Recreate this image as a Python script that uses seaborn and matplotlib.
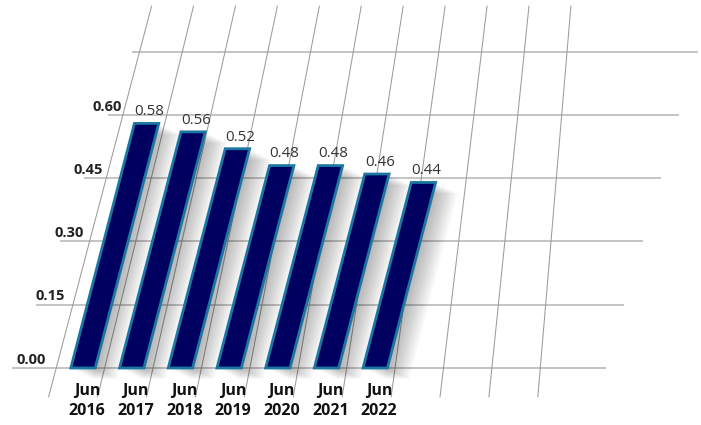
import numpy as np
import pandas as pd
import matplotlib
matplotlib.use("Agg")
import matplotlib.pyplot as plt
import seaborn as sns
from matplotlib.transforms import Affine2D
from matplotlib.patches import Rectangle

# ---- data ----
periods = ["Jun\n2016", "Jun\n2017", "Jun\n2018", "Jun\n2019", "Jun\n2020", "Jun\n2021", "Jun\n2022"]
values = [0.58, 0.56, 0.52, 0.48, 0.48, 0.46, 0.44]
ytick_values = [0.00, 0.15, 0.30, 0.45, 0.60]
hgrid_values = [0.00, 0.15, 0.30, 0.45, 0.60, 0.75]
n_vgrid = 11

# ---- style ----
sns.set_theme(style="white")
plt.rcParams["font.family"] = ["Open Sans", "DejaVu Sans"]

BAR_FACE = "#000060"
BAR_EDGE = "#1c76a2"
GRID_H = "#b4b4b4"
GRID_V = "#9c9c9c"

fig = plt.figure(figsize=(7.01, 4.25), dpi=100)
ax = fig.add_axes([0, 0, 1, 1])

df = pd.DataFrame({"period": periods, "value": values})
sns.barplot(data=df, x="period", y="value", color=BAR_FACE, saturation=1,
            width=0.5, edgecolor=BAR_EDGE, linewidth=2.0, ax=ax, zorder=4)

# pixel scales: 48.7 px per category, 421.7 px per unit
PXC, PXV = 48.7, 421.7
ax.set_xlim(-83 / PXC, (701 - 83) / PXC)
ax.set_ylim(-57 / PXV, 368 / PXV)
ax.axis("off")

def shear(k_px):
    kd = k_px * PXV / PXC
    return Affine2D(np.array([[1, kd, 0], [0, 1, 0], [0, 0, 1]], float))

bar_tr = shear(0.26) + ax.transData

bars = list(ax.patches)
for p in bars:
    p.set_transform(bar_tr)
    p.set_joinstyle("miter")
    # soft shadow
    for d in range(2, 24, 2):
        sh = Rectangle(p.get_xy(), p.get_width(), p.get_height(),
                       facecolor="black", edgecolor="none", alpha=0.026,
                       transform=bar_tr + Affine2D().translate(d, -d * 0.5),
                       zorder=2)
        ax.add_patch(sh)

# value labels
for i, v in enumerate(values):
    ax.annotate(f"{v:.2f}", xy=(i, v), xycoords=bar_tr, xytext=(2, 3),
                textcoords="offset points", ha="center", va="bottom",
                fontsize=10.8, color="#333333", zorder=6)

# horizontal gridlines (sheared extents)
kl_left = 0.38 * PXV / PXC
kl_right = 0.29 * PXV / PXC
for v in hgrid_values:
    x0 = (12 - 83) / PXC + kl_left * v
    x1 = (606 - 83) / PXC + kl_right * v
    ax.plot([x0, x1], [v, v], color=GRID_H, lw=1.1, zorder=1, solid_capstyle="butt")

# vertical gridlines converging to a far vanishing point
vp_x, vp_y = (769 - 83) / PXC, (368 + 2337) / PXV
y_bot, y_top = (368 - 397) / PXV, (368 - 6) / PXV
for j in range(n_vgrid):
    xb = -0.55 + j * 0.994
    xs = [xb + (vp_x - xb) * y / vp_y for y in (y_bot, y_top)]
    ax.plot(xs, [y_bot, y_top], color=GRID_V, lw=0.75, zorder=1)

# y tick labels (sheared placement)
k_lab = 0.30 * PXV / PXC
for v in ytick_values:
    ax.annotate(f"{v:.2f}", xy=((46 - 83) / PXC + k_lab * v, v), xytext=(0, 6),
                textcoords="offset points", ha="right", va="center",
                fontsize=10.5, fontweight="bold", color="#222222")

# x category labels
for i, lab in enumerate(periods):
    ax.text(i + 0.08, (368 - 401) / PXV, lab, ha="center", va="center",
            fontsize=11.5, fontweight="bold", color="#111111", linespacing=1.4)

fig.savefig("out.png", dpi=100)
